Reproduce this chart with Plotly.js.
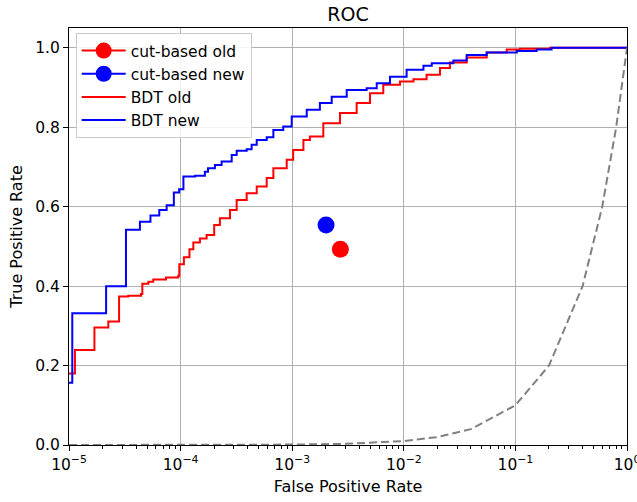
<!DOCTYPE html>
<html>
<head>
<meta charset="utf-8">
<script src="https://cdn.plot.ly/plotly-3.0.1.min.js"></script>
<style>html,body{margin:0;padding:0;background:#fff;}#chart{width:637px;height:502px;}</style>
</head>
<body>
<div id="chart"></div>
<script>
// Cut-based working points
const cutOldFPR = [2.70e-3];
const cutOldTPR = [0.493];
const cutNewFPR = [2.01e-3];
const cutNewTPR = [0.554];

// BDT old ROC (step points)
const bdtOldFPR = [1e-5, 1.13e-5, 1.69e-5, 2.25e-5, 2.81e-5, 3.40e-5, 4.42e-5, 4.54e-5, 5.14e-5, 5.69e-5,
  7.4e-5, 9.53e-5, 9.73e-5, 1.07e-4, 1.20e-4, 1.30e-4, 1.49e-4, 1.71e-4, 2.00e-4, 2.25e-4,
  2.77e-4, 3.18e-4, 3.91e-4, 4.81e-4, 5.91e-4, 6.78e-4, 8.93e-4, 1.02e-3, 1.26e-3, 1.44e-3,
  1.90e-3, 2.68e-3, 3.78e-3, 4.98e-3, 6.55e-3, 9.24e-3, 1.22e-2, 1.60e-2, 2.11e-2, 2.59e-2,
  3.66e-2, 5.53e-2, 8.36e-2, 0.110, 0.204, 1.0];
const bdtOldTPR = [0.180, 0.239, 0.296, 0.311, 0.374, 0.376, 0.380, 0.406, 0.411, 0.417,
  0.422, 0.426, 0.455, 0.473, 0.493, 0.510, 0.520, 0.529, 0.554, 0.571,
  0.592, 0.617, 0.634, 0.651, 0.672, 0.697, 0.718, 0.743, 0.768, 0.777,
  0.810, 0.836, 0.861, 0.886, 0.907, 0.915, 0.921, 0.932, 0.949, 0.963,
  0.976, 0.988, 0.996, 0.998, 1.0, 1.0];

// BDT new ROC (step points)
const bdtNewFPR = [1e-5, 1.07e-5, 2.15e-5, 3.24e-5, 4.32e-5, 5.37e-5, 6.44e-5, 7.5e-5, 8.7e-5, 9.7e-5,
  1.06e-4, 1.35e-4, 1.65e-4, 1.76e-4, 2.03e-4, 2.33e-4, 2.87e-4, 3.18e-4, 3.91e-4, 4.33e-4,
  4.81e-4, 5.91e-4, 6.78e-4, 8.32e-4, 9.9e-4, 1.35e-3, 1.77e-3, 2.26e-3, 3.08e-3, 4.65e-3,
  5.72e-3, 7.52e-3, 1.06e-2, 1.50e-2, 1.78e-2, 2.78e-2, 3.66e-2, 5.53e-2, 0.103, 0.155,
  0.211, 1.0];
const bdtNewTPR = [0.157, 0.332, 0.400, 0.542, 0.562, 0.578, 0.592, 0.604, 0.636, 0.644,
  0.676, 0.678, 0.688, 0.697, 0.705, 0.714, 0.730, 0.741, 0.745, 0.756,
  0.768, 0.775, 0.793, 0.802, 0.827, 0.844, 0.861, 0.877, 0.894, 0.898,
  0.911, 0.927, 0.945, 0.955, 0.961, 0.968, 0.982, 0.988, 0.992, 0.996,
  1.0, 1.0];

// Random-guess reference line
const randFPR = [1e-5, 1e-4, 1e-3, 3e-3, 6e-3, 0.01, 0.02, 0.04, 0.1, 0.2, 0.4, 0.6, 0.8, 1.0];
const randTPR = [1e-5, 1e-4, 1e-3, 3e-3, 6e-3, 0.01, 0.02, 0.04, 0.1, 0.2, 0.4, 0.6, 0.8, 1.0];

// Tick labels
const xTickVals = [1e-5, 1e-4, 1e-3, 1e-2, 1e-1, 1];
const xTickText = ['10<sup>−5</sup>', '10<sup>−4</sup>', '10<sup>−3</sup>', '10<sup>−2</sup>', '10<sup>−1</sup>', '10<sup>0</sup>'];
const yTickVals = [0, 0.2, 0.4, 0.6, 0.8, 1.0];

const minorVals = [];
for (let e = -5; e < 0; e++) for (let m = 2; m <= 9; m++) minorVals.push(m * Math.pow(10, e));

const FONT = 'DejaVu Sans, sans-serif';

const traces = [
  {x: cutOldFPR, y: cutOldTPR, name: 'cut-based old', mode: 'lines+markers', type: 'scatter',
   marker: {color: '#ff0000', size: 17}, line: {color: '#ff0000', width: 2}},
  {x: cutNewFPR, y: cutNewTPR, name: 'cut-based new', mode: 'lines+markers', type: 'scatter',
   marker: {color: '#0000ff', size: 17}, line: {color: '#0000ff', width: 2}},
  {x: bdtOldFPR, y: bdtOldTPR, name: 'BDT old', mode: 'lines', type: 'scatter',
   line: {color: '#ff0000', width: 2, shape: 'hv'}},
  {x: bdtNewFPR, y: bdtNewTPR, name: 'BDT new', mode: 'lines', type: 'scatter',
   line: {color: '#0000ff', width: 2, shape: 'hv'}},
  {x: randFPR, y: randTPR, name: 'random', mode: 'lines', type: 'scatter', showlegend: false,
   line: {color: '#808080', width: 2, dash: '8px,4px'}}
];

const layout = {
  width: 637, height: 502,
  margin: {l: 69, r: 10, t: 28, b: 57, pad: 0},
  paper_bgcolor: '#fff', plot_bgcolor: '#fff',
  font: {family: FONT, size: 15, color: '#000'},
  title: {text: 'ROC', font: {family: FONT, size: 19, color: '#000'},
          xref: 'paper', x: 0.5, xanchor: 'center', yref: 'container', y: 0.972, yanchor: 'middle'},
  xaxis: {
    type: 'log', range: [-5, 0],
    tickmode: 'array', tickvals: xTickVals, ticktext: xTickText,
    ticks: 'outside', ticklen: 5, tickwidth: 1, tickcolor: '#000',
    ticklabeloverflow: 'allow',
    showline: true, linecolor: '#000', linewidth: 1, mirror: true,
    showgrid: true, gridcolor: '#b0b0b0', gridwidth: 1, zeroline: false,
    tickfont: {family: FONT, size: 15.5, color: '#000'},
    minor: {tickmode: 'array', tickvals: minorVals, ticks: 'outside', ticklen: 3, tickcolor: '#000', showgrid: false},
    title: {text: 'False Positive Rate', font: {family: FONT, size: 16, color: '#000'}, standoff: 8}
  },
  yaxis: {
    range: [0, 1.05],
    tickmode: 'array', tickvals: yTickVals, tickformat: '.1f',
    ticks: 'outside', ticklen: 5, tickwidth: 1, tickcolor: '#000',
    showline: true, linecolor: '#000', linewidth: 1, mirror: true,
    showgrid: true, gridcolor: '#b0b0b0', gridwidth: 1, zeroline: false,
    tickfont: {family: FONT, size: 15.5, color: '#000'},
    title: {text: 'True Positive Rate', font: {family: FONT, size: 16, color: '#000'}, standoff: 8}
  },
  legend: {
    x: 0.012, y: 0.988, xanchor: 'left', yanchor: 'top',
    bgcolor: 'rgba(255,255,255,0.85)', bordercolor: '#cccccc', borderwidth: 1,
    font: {family: FONT, size: 15.5, color: '#000'},
    itemwidth: 44
  },
  showlegend: true
};

Plotly.newPlot('chart', traces, layout, {displayModeBar: false, staticPlot: true});
</script>
</body>
</html>
